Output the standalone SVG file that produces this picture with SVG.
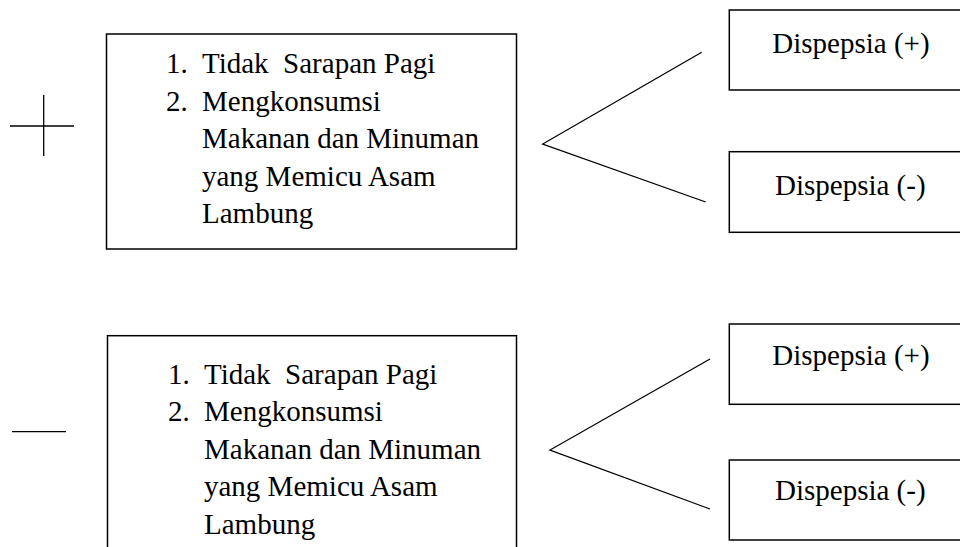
<svg xmlns="http://www.w3.org/2000/svg" width="960" height="547" viewBox="0 0 960 547">
<style>
.box{fill:none;stroke:#000;stroke-width:1.5}
.ln{fill:none;stroke:#000;stroke-width:1.3}
.t{font-family:"Liberation Serif","Times New Roman",serif;font-size:29px;fill:#000}
</style>
<rect width="960" height="547" fill="#fff"/>
<g id="sign-plus">
<line class="ln" x1="10" y1="126" x2="74" y2="126"/>
<line class="ln" x1="43.7" y1="95" x2="43.7" y2="156"/>
</g>
<g id="sign-minus">
<line class="ln" x1="12" y1="431.7" x2="66" y2="431.7"/>
</g>
<g id="box-top">
<rect class="box" x="106.5" y="34" width="410" height="215"/>
<text class="t" x="166" y="73">1.</text>
<text class="t" x="202" y="73" xml:space="preserve">Tidak  Sarapan Pagi</text>
<text class="t" x="166" y="110.7">2.</text>
<text class="t" x="202" y="110.7">Mengkonsumsi</text>
<text class="t" x="202" y="148.3">Makanan dan Minuman</text>
<text class="t" x="202" y="186">yang Memicu Asam</text>
<text class="t" x="202" y="223.3">Lambung</text>
</g>
<g id="box-bottom">
<rect class="box" x="107.5" y="335.7" width="409" height="230"/>
<text class="t" x="168" y="383.5">1.</text>
<text class="t" x="204" y="383.5" xml:space="preserve">Tidak  Sarapan Pagi</text>
<text class="t" x="168" y="421">2.</text>
<text class="t" x="204" y="421">Mengkonsumsi</text>
<text class="t" x="204" y="458.5">Makanan dan Minuman</text>
<text class="t" x="204" y="496">yang Memicu Asam</text>
<text class="t" x="204" y="533.5">Lambung</text>
</g>
<g id="disp-top-pos">
<rect class="box" x="729.3" y="10" width="240" height="80"/>
<text class="t" x="772.3" y="52.7">Dispepsia (+)</text>
</g>
<g id="disp-top-neg">
<rect class="box" x="729.3" y="151.7" width="240" height="80.6"/>
<text class="t" x="775" y="195">Dispepsia (-)</text>
</g>
<g id="disp-bot-pos">
<rect class="box" x="729.3" y="324" width="240" height="80.3"/>
<text class="t" x="772.3" y="364.5">Dispepsia (+)</text>
</g>
<g id="disp-bot-neg">
<rect class="box" x="729.3" y="460" width="240" height="80"/>
<text class="t" x="775" y="499.5">Dispepsia (-)</text>
</g>
<g id="connectors">
<polyline class="ln" points="701.7,52.3 542.7,144 705.7,202"/>
<polyline class="ln" points="710,359 550,450 710,509"/>
</g>
</svg>
